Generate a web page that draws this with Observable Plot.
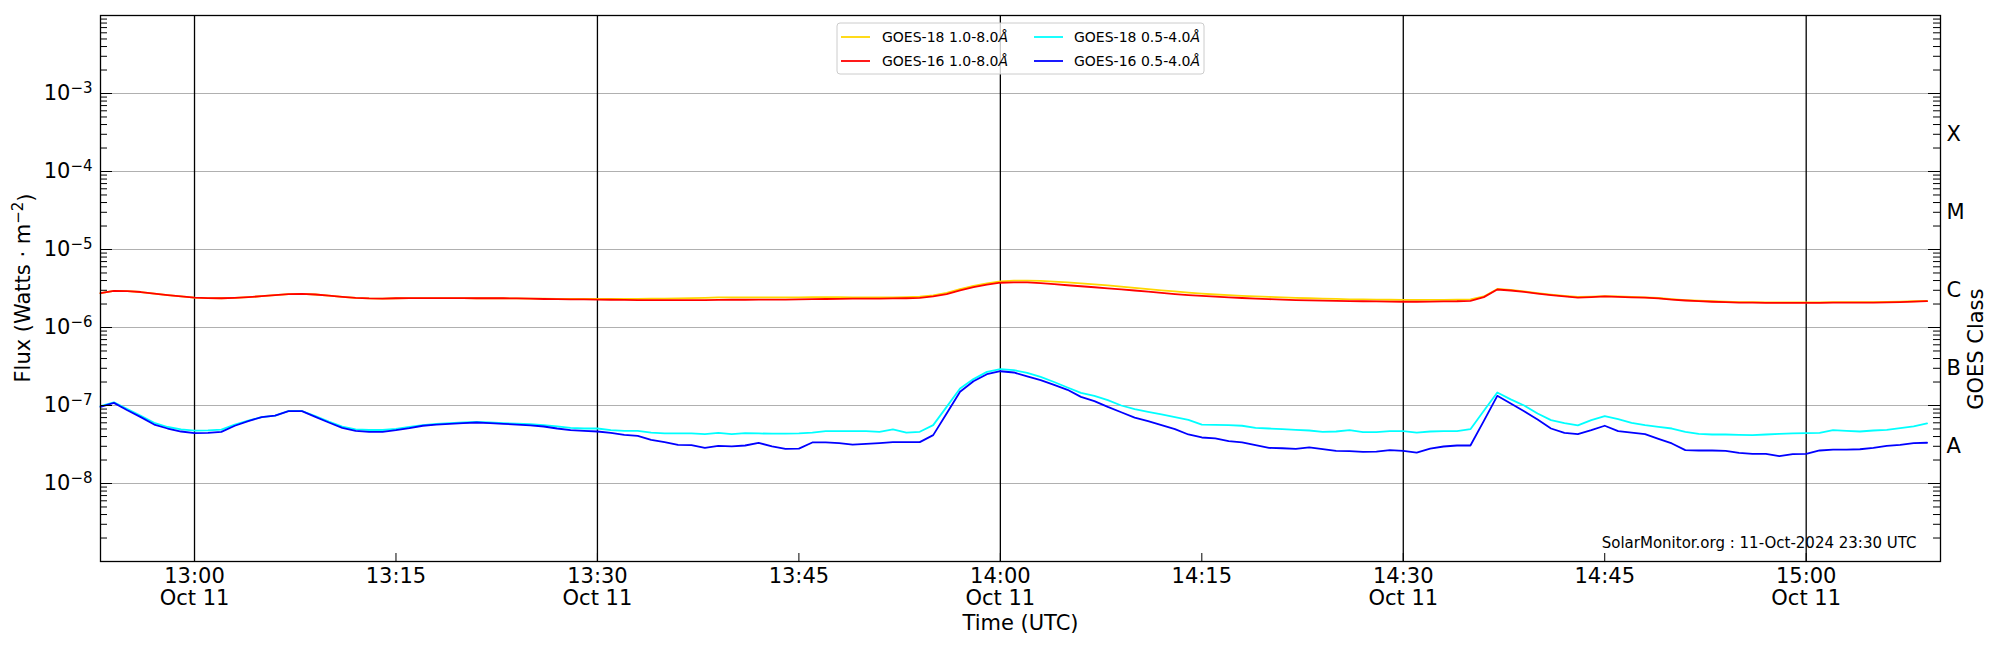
<!DOCTYPE html>
<html>
<head>
<meta charset="utf-8">
<script src="https://cdn.jsdelivr.net/npm/d3@7"></script>
<script src="https://cdn.jsdelivr.net/npm/@observablehq/plot@0.6"></script>
<style>
  html, body { margin: 0; padding: 0; background: #fff; }
  #chart svg { display: block; }
</style>
</head>
<body>
<div id="chart"></div>
<script>
// ---- Data (1-minute GOES XRS samples, 12:53 – 15:09 UTC, 11 Oct 2024) ----
const startTime = "2024-10-11T12:53:00Z";
const cadenceMs = 60000;

// GOES-16 1.0-8.0 Å, in units of 1e-6 W m^-2
const goes16LongE6 = [
  2.75, 2.95, 2.92, 2.85, 2.72, 2.60, 2.50, 2.42, 2.38, 2.37,
  2.40, 2.45, 2.52, 2.60, 2.68, 2.70, 2.65, 2.56, 2.47, 2.40,
  2.36, 2.35, 2.37, 2.38, 2.38, 2.38, 2.38, 2.38, 2.37, 2.37,
  2.37, 2.36, 2.34, 2.32, 2.31, 2.30, 2.29, 2.28, 2.27, 2.26,
  2.25, 2.25, 2.24, 2.24, 2.24, 2.25, 2.26, 2.27, 2.27, 2.28,
  2.28, 2.28, 2.30, 2.31, 2.32, 2.33, 2.34, 2.35, 2.35, 2.36,
  2.37, 2.40, 2.50, 2.68, 3.00, 3.30, 3.55, 3.75, 3.80, 3.80,
  3.70, 3.60, 3.48, 3.38, 3.28, 3.18, 3.08, 2.98, 2.88, 2.78,
  2.68, 2.60, 2.54, 2.49, 2.44, 2.39, 2.35, 2.31, 2.28, 2.25,
  2.23, 2.21, 2.20, 2.18, 2.17, 2.16, 2.15, 2.14, 2.14, 2.15,
  2.16, 2.17, 2.20, 2.45, 3.07, 2.98, 2.86, 2.72, 2.60, 2.50,
  2.42, 2.45, 2.50, 2.47, 2.44, 2.41, 2.36, 2.28, 2.22, 2.18,
  2.14, 2.11, 2.09, 2.08, 2.07, 2.07, 2.07, 2.07, 2.07, 2.08,
  2.08, 2.09, 2.09, 2.10, 2.12, 2.15, 2.18
];
// GOES-18 1.0-8.0 Å, in units of 1e-6 W m^-2
const goes18LongE6 = [
  2.75, 2.95, 2.92, 2.85, 2.72, 2.60, 2.50, 2.42, 2.38, 2.37,
  2.40, 2.45, 2.52, 2.60, 2.68, 2.70, 2.65, 2.56, 2.47, 2.40,
  2.36, 2.35, 2.37, 2.38, 2.38, 2.38, 2.38, 2.38, 2.37, 2.37,
  2.37, 2.36, 2.35, 2.34, 2.33, 2.32, 2.32, 2.32, 2.33, 2.33,
  2.33, 2.34, 2.35, 2.36, 2.38, 2.40, 2.43, 2.44, 2.44, 2.43,
  2.43, 2.43, 2.44, 2.45, 2.45, 2.45, 2.44, 2.44, 2.44, 2.44,
  2.45, 2.48, 2.58, 2.78, 3.10, 3.42, 3.68, 3.90, 3.98, 4.00,
  3.95, 3.87, 3.78, 3.68, 3.58, 3.46, 3.34, 3.22, 3.10, 3.00,
  2.90, 2.80, 2.72, 2.65, 2.60, 2.55, 2.50, 2.47, 2.43, 2.40,
  2.37, 2.35, 2.33, 2.30, 2.29, 2.28, 2.27, 2.26, 2.26, 2.26,
  2.26, 2.27, 2.30, 2.50, 3.12, 3.03, 2.90, 2.76, 2.64, 2.54,
  2.46, 2.49, 2.53, 2.50, 2.47, 2.44, 2.39, 2.31, 2.25, 2.21,
  2.17, 2.14, 2.12, 2.11, 2.10, 2.10, 2.10, 2.10, 2.10, 2.11,
  2.11, 2.12, 2.12, 2.13, 2.15, 2.17, 2.20
];
// GOES-18 0.5-4.0 Å, in units of 1e-8 W m^-2
const goes18ShortE8 = [
  9.8, 11.0, 9.0, 7.4, 6.0, 5.3, 4.95, 4.75, 4.8, 4.9,
  5.7, 6.4, 7.1, 7.4, 8.5, 8.5, 7.3, 6.2, 5.35, 4.95,
  4.85, 4.85, 5.0, 5.3, 5.6, 5.8, 5.95, 6.05, 6.17, 6.05,
  5.95, 5.85, 5.75, 5.6, 5.4, 5.18, 5.07, 5.07, 4.83, 4.73,
  4.73, 4.5, 4.38, 4.38, 4.38, 4.29, 4.45, 4.29, 4.42, 4.38,
  4.35, 4.35, 4.38, 4.5, 4.68, 4.68, 4.68, 4.68, 4.6, 4.93,
  4.5, 4.6, 5.6, 9.6, 16.5, 21.8, 27.0, 29.2, 28.4, 26.2,
  23.3, 20.0, 17.0, 14.5, 13.3, 11.7, 10.0, 8.97, 8.3, 7.67,
  7.1, 6.55, 5.7, 5.65, 5.6, 5.5, 5.17, 5.07, 4.97, 4.88,
  4.78, 4.6, 4.64, 4.83, 4.55, 4.55, 4.69, 4.69, 4.5, 4.64,
  4.69, 4.69, 4.97, 8.55, 14.7, 12.0, 10.0, 7.9, 6.5, 5.94,
  5.55, 6.5, 7.3, 6.7, 6.0, 5.6, 5.33, 5.07, 4.6, 4.33,
  4.25, 4.25, 4.2, 4.17, 4.25, 4.33, 4.38, 4.42, 4.45, 4.83,
  4.73, 4.64, 4.78, 4.88, 5.12, 5.4, 5.88
];
// GOES-16 0.5-4.0 Å, in units of 1e-8 W m^-2
const goes16ShortE8 = [
  9.6, 10.8, 8.7, 7.1, 5.7, 5.07, 4.64, 4.42, 4.45, 4.59,
  5.5, 6.3, 7.1, 7.4, 8.46, 8.46, 7.16, 6.05, 5.17, 4.73,
  4.59, 4.59, 4.83, 5.13, 5.5, 5.7, 5.82, 5.94, 6.05, 5.94,
  5.82, 5.7, 5.55, 5.38, 5.07, 4.83, 4.73, 4.64, 4.45, 4.21,
  4.08, 3.63, 3.39, 3.13, 3.1, 2.86, 3.04, 3.0, 3.07, 3.32,
  3.0, 2.78, 2.8, 3.36, 3.36, 3.3, 3.16, 3.23, 3.3, 3.39,
  3.39, 3.39, 4.17, 7.9, 15.0, 20.5, 25.2, 27.5, 26.5, 23.6,
  21.1, 18.4, 15.9, 12.9, 11.4, 9.6, 8.2, 7.0, 6.3, 5.6,
  4.97, 4.25, 3.89, 3.78, 3.49, 3.36, 3.1, 2.86, 2.83, 2.78,
  2.9, 2.75, 2.62, 2.6, 2.55, 2.57, 2.68, 2.62, 2.49, 2.8,
  2.98, 3.07, 3.07, 6.36, 13.3, 10.6, 8.46, 6.6, 5.07, 4.45,
  4.29, 4.83, 5.5, 4.69, 4.5, 4.29, 3.73, 3.26, 2.68, 2.65,
  2.65, 2.62, 2.47, 2.4, 2.4, 2.24, 2.38, 2.4, 2.65, 2.72,
  2.72, 2.75, 2.86, 3.04, 3.13, 3.3, 3.33
];

// Series meta (legend order = drawing order)
const seriesNames = ["GOES-18 1.0-8.0", "GOES-16 1.0-8.0", "GOES-18 0.5-4.0", "GOES-16 0.5-4.0"];
const seriesColors = ["#ffd700", "#ff0000", "#00ffff", "#0000ff"];

// Axis ticks / labels
const xDomain = ["2024-10-11T12:53:00Z", "2024-10-11T15:10:00Z"];
const xTickTimes = ["2024-10-11T13:00:00Z", "2024-10-11T13:15:00Z", "2024-10-11T13:30:00Z",
  "2024-10-11T13:45:00Z", "2024-10-11T14:00:00Z", "2024-10-11T14:15:00Z", "2024-10-11T14:30:00Z",
  "2024-10-11T14:45:00Z", "2024-10-11T15:00:00Z"];
const xTickLabels = ["13:00\nOct 11", "13:15", "13:30\nOct 11", "13:45", "14:00\nOct 11",
  "14:15", "14:30\nOct 11", "14:45", "15:00\nOct 11"];
const halfHourLines = ["2024-10-11T13:00:00Z", "2024-10-11T13:30:00Z", "2024-10-11T14:00:00Z",
  "2024-10-11T14:30:00Z", "2024-10-11T15:00:00Z"];
const yDomain = [1e-9, 1e-2];
const yDecadeTicks = [1e-9, 1e-8, 1e-7, 1e-6, 1e-5, 1e-4, 1e-3, 1e-2];
const yLabelTicks = [1e-8, 1e-7, 1e-6, 1e-5, 1e-4, 1e-3];
const yGridLines = [1e-8, 1e-7, 1e-6, 1e-5, 1e-4, 1e-3];
const goesClassLabels = ["A", "B", "C", "M", "X"];
const goesClassPositions = [3e-8, 3e-7, 3e-6, 3e-5, 3e-4];

// ---- Build table ----
const t0 = Date.parse(startTime);
const times = goes16LongE6.map((_, i) => new Date(t0 + i * cadenceMs));
const seriesValues = [
  goes18LongE6.map(v => v * 1e-6),
  goes16LongE6.map(v => v * 1e-6),
  goes18ShortE8.map(v => v * 1e-8),
  goes16ShortE8.map(v => v * 1e-8)
];
const rows = [];
seriesNames.forEach((name, s) => {
  times.forEach((t, i) => rows.push({series: name, time: t, flux: seriesValues[s][i]}));
});

const minorTicks = [];
for (let e = -9; e < -2; e++) for (let m = 2; m <= 9; m++) minorTicks.push(m * Math.pow(10, e));

const width = 2000, height = 650;
const mL = 100, mR = 60, mT = 15, mB = 89;
const plotW = width - mL - mR, plotH = height - mT - mB;
const labelByTime = new Map(xTickTimes.map((t, i) => [Date.parse(t), xTickLabels[i]]));
const font = "DejaVu Sans";
const fs = 21;

const chart = Plot.plot({
  width, height,
  marginLeft: mL, marginRight: mR, marginTop: mT, marginBottom: mB,
  style: {fontFamily: font, fontSize: fs + "px", background: "#fff", color: "#000"},
  x: {type: "utc", domain: xDomain.map(d => new Date(d))},
  y: {type: "log", domain: yDomain},
  color: {domain: seriesNames, range: seriesColors},
  marks: [
    Plot.ruleY(yGridLines, {y: d => d, stroke: "#b0b0b0", strokeWidth: 1.1}),
    Plot.ruleX(halfHourLines.map(d => new Date(d)), {x: d => d, stroke: "#000", strokeWidth: 1.3}),
    ...seriesNames.map(name =>
      Plot.line(rows.filter(r => r.series === name), {x: "time", y: "flux", stroke: "series", strokeWidth: 1.8})
    ),
    // inward ticks, left and right
    Plot.tickY(yDecadeTicks, {y: d => d, insetRight: plotW - 12, stroke: "#000"}),
    Plot.tickY(minorTicks, {y: d => d, insetRight: plotW - 7, stroke: "#000"}),
    Plot.tickY(yDecadeTicks, {y: d => d, insetLeft: plotW - 12, stroke: "#000"}),
    Plot.tickY(minorTicks, {y: d => d, insetLeft: plotW - 7, stroke: "#000"}),
    // inward ticks, bottom
    Plot.tickX(xTickTimes.map(d => new Date(d)), {x: d => d, insetTop: plotH - 8, stroke: "#000"}),
    Plot.axisX({ticks: xTickTimes.map(d => new Date(d)), tickSize: 0, tickPadding: 6,
      tickFormat: d => labelByTime.get(+d), fontSize: fs, lineHeight: 1.04, label: null}),
    Plot.axisY({ticks: yLabelTicks, tickSize: 0, tickPadding: 8,
      tickFormat: d => "10^" + Math.round(Math.log10(d)), fontSize: fs, label: null}),
    Plot.text(goesClassLabels, {y: (d, i) => goesClassPositions[i], text: d => d,
      frameAnchor: "right", dx: 6, textAnchor: "start", fontSize: fs}),
    Plot.text(["Time (UTC)"], {text: d => d, frameAnchor: "bottom", lineAnchor: "middle", dy: 62, fontSize: fs}),
    Plot.text(["SolarMonitor.org : 11-Oct-2024 23:30 UTC"], {text: d => d,
      frameAnchor: "bottom-right", textAnchor: "end", lineAnchor: "middle", dx: -24, dy: -18, fontSize: 15}),
    Plot.text(["GOES Class"], {text: d => d, frameAnchor: "right", dx: 36, rotate: -90, fontSize: fs}),
    Plot.frame({stroke: "#000", strokeWidth: 1.3})
  ]
});

document.getElementById("chart").appendChild(chart);
const svg = d3.select(chart);

// superscript formatting of y tick labels
svg.selectAll('g[aria-label="y-axis tick label"] text').each(function () {
  const txt = this.textContent;
  const m = txt.match(/^10\^(-?\d+)$/);
  if (!m) return;
  const el = d3.select(this);
  el.text(null);
  el.append("tspan").text("10");
  el.append("tspan").attr("dy", "-0.5em").attr("font-size", "15px").text("\u2212" + m[1].replace("-", ""));
});

// y-axis title with superscript
const ylab = svg.append("text")
  .attr("transform", `translate(23,${mT + plotH / 2}) rotate(-90)`)
  .attr("text-anchor", "middle").attr("dy", "0.35em")
  .attr("font-family", font).attr("font-size", fs).attr("fill", "#000");
ylab.append("tspan").text("Flux (Watts \u00b7 m");
ylab.append("tspan").attr("dy", "-0.5em").attr("font-size", "15px").text("\u22122");
ylab.append("tspan").attr("dy", "0.5em").text(")");

// legend
const lg = svg.append("g").attr("font-family", font).attr("font-size", 14).attr("text-anchor", "start");
lg.append("rect").attr("x", 837).attr("y", 23).attr("width", 367).attr("height", 51)
  .attr("rx", 3).attr("fill", "#fff").attr("fill-opacity", 0.8).attr("stroke", "#cccccc");
const legendCols = [[841, 882], [1034, 1074]];
const legendRows = [37, 61];
seriesNames.forEach((name, i) => {
  const col = Math.floor(i / 2), row = i % 2;
  const [lx, tx] = legendCols[col];
  const y = legendRows[row];
  lg.append("line").attr("x1", lx).attr("x2", lx + 29).attr("y1", y).attr("y2", y)
    .attr("stroke", seriesColors[i]).attr("stroke-width", 1.8);
  const t = lg.append("text").attr("x", tx).attr("y", y).attr("dy", "0.35em")
    .attr("text-anchor", "start").attr("fill", "#000");
  t.append("tspan").text(name);
  t.append("tspan").attr("font-style", "italic").text("\u00c5");
});
</script>
</body>
</html>
